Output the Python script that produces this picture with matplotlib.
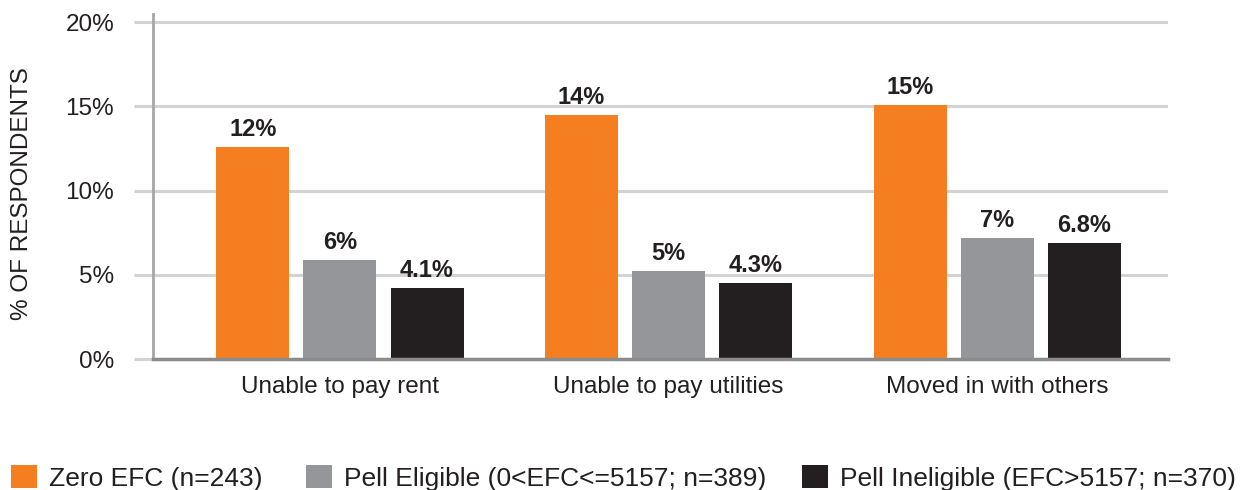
import matplotlib
matplotlib.use("Agg")
import matplotlib.pyplot as plt
from matplotlib.patches import Patch
import numpy as np

plt.rcParams['font.family'] = ['Liberation Sans', 'DejaVu Sans']

categories = ["Unable to pay rent", "Unable to pay utilities", "Moved in with others"]
series_names = ["Zero EFC (n=243)", "Pell Eligible (0<EFC<=5157; n=389)", "Pell Ineligible (EFC>5157; n=370)"]
zero_efc = [12.6, 14.5, 15.1]
pell_eligible = [5.9, 5.2, 7.2]
pell_ineligible = [4.2, 4.5, 6.9]
zero_efc_labels = ["12%", "14%", "15%"]
pell_eligible_labels = ["6%", "5%", "7%"]
pell_ineligible_labels = ["4.1%", "4.3%", "6.8%"]
yticks = [0, 5, 10, 15, 20]
ytick_labels = ["0%", "5%", "10%", "15%", "20%"]

colors = ["#F47E20", "#959699", "#231F20"]
txt = '#231F20'

fig = plt.figure(figsize=(12.51, 4.90), dpi=100)
ax = fig.add_axes([153/1251, 1-359/490, (1168-153)/1251, (359-13.6)/490])

x = np.arange(len(categories))
step = 0.265
width = 0.222
data = [zero_efc, pell_eligible, pell_ineligible]
labels = [zero_efc_labels, pell_eligible_labels, pell_ineligible_labels]
for i, (vals, labs) in enumerate(zip(data, labels)):
    pos = x + (i - 1) * step
    bars = ax.bar(pos, vals, width=width, color=colors[i], zorder=3)
    for b, lab in zip(bars, labs):
        ax.text(b.get_x() + b.get_width()/2, b.get_height() + 0.35, lab,
                ha='center', va='bottom', fontsize=17, fontweight='bold', color=txt)

ax.set_xlim(-0.569, 2.52)
ax.set_ylim(0, 20.5)
ax.set_yticks(yticks)
ax.set_yticklabels(ytick_labels, fontsize=17.5, color=txt)
ax.set_xticks(x)
ax.set_xticklabels(categories, fontsize=17.5, color=txt)
ax.tick_params(axis='x', length=0, pad=12)
ax.tick_params(axis='y', length=14, width=2.2, color='#D3D3D3', pad=14)
ax.yaxis.grid(True, color='#D3D3D3', linewidth=2.2, zorder=0)
ax.set_axisbelow(True)
for s in ['top', 'right']:
    ax.spines[s].set_visible(False)
ax.spines['left'].set_color('#A6A6A6')
ax.spines['left'].set_linewidth(2)
ax.spines['bottom'].set_color('#8C8C8C')
ax.spines['bottom'].set_linewidth(2.5)
ax.spines['bottom'].set_zorder(4)

fig.text(22/1251, 1-194/490, "% OF RESPONDENTS", rotation=90, ha='center', va='center',
         fontsize=17.5, color=txt)

handle_left_px = [11, 306, 802]
for c, name, lx in zip(colors, series_names, handle_left_px):
    h = Patch(facecolor=c, edgecolor='none')
    fig.legend([h], [name], loc='center left', bbox_to_anchor=(lx/1251, 1-478/490),
               frameon=False, fontsize=19, handlelength=1.0, handleheight=0.95,
               handletextpad=0.45, borderpad=0, borderaxespad=0, labelcolor=txt)

fig.savefig("out.png", dpi=100)
